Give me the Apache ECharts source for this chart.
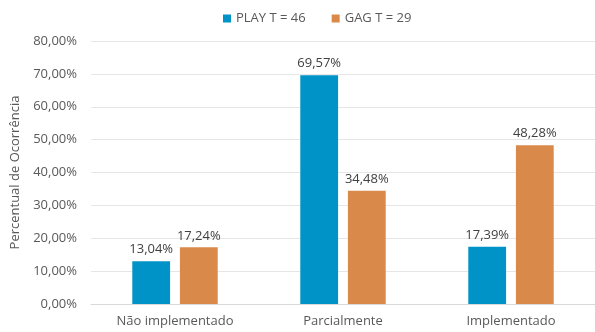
<!DOCTYPE html>
<html><head><meta charset="utf-8">
<script src="https://cdn.jsdelivr.net/npm/echarts@6/dist/echarts.min.js"></script>
<style>html,body{margin:0;padding:0;background:#fff}#c{width:595px;height:332px}</style>
</head><body><div id="c"></div>
<script>
const categories = ['Não implementado', 'Parcialmente', 'Implementado'];
const seriesNames = ['PLAY T = 46', 'GAG T = 29'];
const playValues = [13.04, 69.57, 17.39];
const gagValues = [17.24, 34.48, 48.28];
const yTicks = [0, 10, 20, 30, 40, 50, 60, 70, 80];
const fmt = v => v.toFixed(2).replace('.', ',') + '%';
const FONT = 'Open Sans';
const chart = echarts.init(document.getElementById('c'), null, {renderer: 'canvas'});
chart.setOption({
  animation: false,
  textStyle: {fontFamily: FONT},
  legend: {
    top: 7, left: 218, itemWidth: 8, itemHeight: 8, itemGap: 26, icon: 'rect',
    textStyle: {color: '#595959', fontSize: 13, fontFamily: FONT}
  },
  grid: {left: 91, right: -2, top: 41, bottom: 28},
  xAxis: {
    type: 'category', data: categories,
    axisTick: {show: false},
    axisLine: {lineStyle: {color: '#d9d9d9'}},
    axisLabel: {color: '#595959', fontSize: 13, fontFamily: FONT, margin: 11}
  },
  yAxis: {
    type: 'value', min: yTicks[0], max: yTicks[yTicks.length - 1], interval: 10,
    name: 'Percentual de Ocorrência', nameLocation: 'middle', nameGap: 62,
    nameTextStyle: {color: '#595959', fontSize: 13, fontFamily: FONT},
    axisLabel: {color: '#595959', fontSize: 13, fontFamily: FONT, margin: 14, formatter: v => fmt(v)},
    splitLine: {lineStyle: {color: '#e6e6e6'}},
    axisLine: {show: false}, axisTick: {show: false}
  },
  series: [
    {name: seriesNames[0], type: 'bar', data: playValues, barWidth: '22.5%', barGap: '26%',
     itemStyle: {color: '#0093C8'},
     label: {show: true, position: 'top', color: '#404040', fontSize: 13, fontFamily: FONT, distance: 5, formatter: p => fmt(p.value)}},
    {name: seriesNames[1], type: 'bar', data: gagValues, barWidth: '22.5%',
     itemStyle: {color: '#D98A4B'},
     label: {show: true, position: 'top', color: '#404040', fontSize: 13, fontFamily: FONT, distance: 5, formatter: p => fmt(p.value)}}
  ]
});
</script></body></html>
